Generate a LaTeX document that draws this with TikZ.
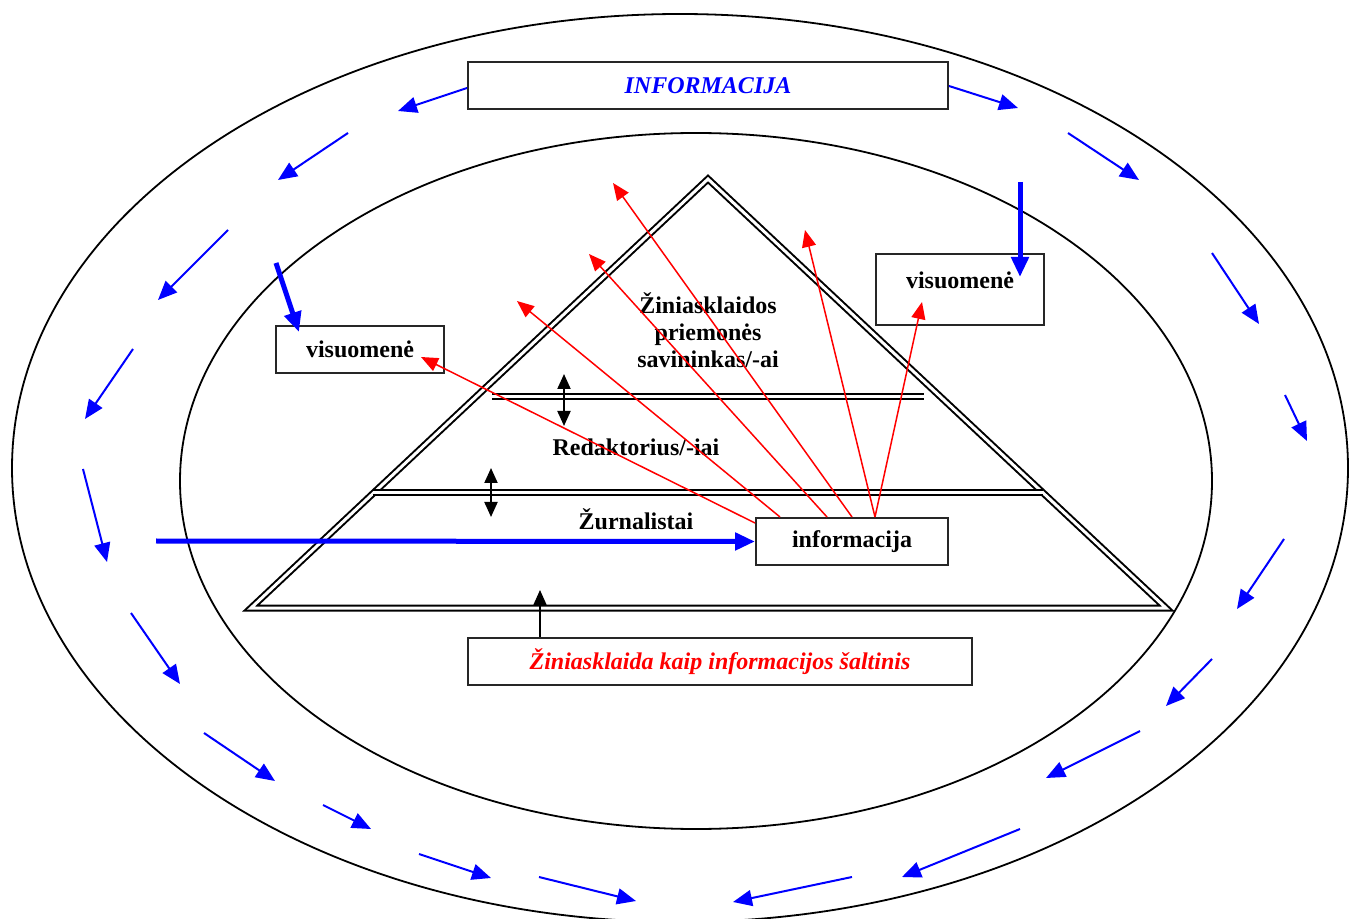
\documentclass[tikz,border=0pt]{standalone}
\usepackage{fontspec}
\setmainfont{Liberation Serif}
\usetikzlibrary{arrows.meta}
\begin{document}
\begin{tikzpicture}[x=0.5pt,y=-0.5pt,
  box/.style={draw=black!85, line width=1pt, rectangle, inner sep=0pt, minimum height=23.5pt},
  lbl/.style={font=\bfseries\fontsize{12}{13.5}\selectfont, align=center, inner sep=0pt},
  ring/.style={black, line width=0.9pt},
  wall/.style={black, line width=1pt, double, double distance=1.5pt},
  flow/.style={blue, line width=1pt, -{Triangle[length=9.5pt,width=8pt]}},
  heavy/.style={blue, line width=2.5pt, -{Triangle[length=10pt,width=8.5pt]}},
  ray/.style={red, line width=0.75pt, -{Triangle[length=8.5pt,width=7pt]}},
  both/.style={black, line width=1pt, {Triangle[length=7.5pt,width=6.5pt]}-{Triangle[length=7.5pt,width=6.5pt]}},
  lift/.style={black, line width=0.8pt, -{Triangle[length=7.5pt,width=6.5pt]}},
]
\useasboundingbox (0,0) rectangle (1350,919);

% the two rings
\draw[ring] (680,468) ellipse [x radius=668, y radius=454];
\draw[ring] (696,481) ellipse [x radius=516, y radius=348];

% the pyramid and its level dividers
\draw[wall] (708,179) -- (1166,608) -- (251,608) -- cycle;
\draw[wall] (492,397) -- (924,397);
\draw[wall] (373,493) -- (1043,493);

% boxes
\node[box, minimum width=240pt] (info) at (708,85.5)
  {\color{blue}\bfseries\itshape\fontsize{12}{14}\selectfont INFORMACIJA};
\node[box, minimum width=84pt] (visL) at (360,349.5)
  {\bfseries\fontsize{12}{14}\selectfont visuomenė};
\node[box, minimum width=84pt, minimum height=35.5pt] (visR) at (960,289.5) {};
\node[lbl] (visRtext) at (960,280) {visuomenė};
\node[box, minimum width=96pt] (infoBox) at (852,541.5)
  {\bfseries\fontsize{12}{14}\selectfont informacija};
\node[box, minimum width=252pt] (src) at (720,661.5)
  {\color{red}\bfseries\itshape\fontsize{12}{14}\selectfont Žiniasklaida kaip informacijos šaltinis};

% level labels
\node[lbl] (owner) at (708,330) {Žiniasklaidos\\priemonės\\savininkas/-ai};
\node[lbl] (editor) at (636,447) {Redaktorius/-iai};
\node[lbl] (journ) at (636,519) {Žurnalistai};

% two-way links between levels
\coordinate (upA) at (564,374); \coordinate (dnA) at (564,426);
\coordinate (upB) at (491,468); \coordinate (dnB) at (491,517);
\draw[both] (upA) -- (dnA);
\draw[both] (upB) -- (dnB);

% media as a source lifts into the pyramid base
\coordinate (baseTip) at (540,590);
\draw[lift] (baseTip |- src.north) -- (baseTip);

% heavy blue inputs
\coordinate (feed) at (156,541);
\draw[heavy] (feed) -- (infoBox.west);
\coordinate (dropR) at (1020,182); \coordinate (dropRend) at (1020,277);
\draw[heavy] (dropR) -- (dropRend);
\coordinate (dropL) at (276,263); \coordinate (dropLend) at (299,332);
\draw[heavy] (dropL) -- (dropLend);

% red rays out of the journalists' information
\coordinate (t1) at (421,357);
\coordinate (t2) at (517,301);
\coordinate (t3) at (589,254);
\coordinate (t4) at (613,183);
\coordinate (t5) at (805,230);
\coordinate (t6) at (922,302);
\draw[ray] ([yshift=-3pt]infoBox.north west) -- (t1);
\draw[ray] ([xshift=12.5pt]infoBox.north west) -- (t2);
\draw[ray] ([xshift=36pt]infoBox.north west) -- (t3);
\draw[ray] ([xshift=48.5pt]infoBox.north west) -- (t4);
\draw[ray] ([xshift=60pt]infoBox.north west) -- (t5);
\draw[ray] ([xshift=60pt]infoBox.north west) -- (t6);

% information circulating between the rings
\coordinate (fa) at (398,111);
\draw[flow] (info.west |- 0,88) -- (fa);
\coordinate (fk) at (1018,108);
\draw[flow] (info.east |- 0,86) -- (fk);
\foreach \ax/\ay/\bx/\by in {
  348/133/278/180, 228/230/158/300, 133/349/85/419, 83/469/107/562,
  131/613/180/684, 204/733/275/781, 323/805/371/829, 419/854/491/878,
  539/877/636/901,
  1068/133/1139/180, 1212/253/1259/324, 1285/395/1307/441,
  1284/539/1237/609, 1212/659/1166/706, 1140/731/1046/778,
  1020/829/902/877, 852/877/733/902}
  \draw[flow] (\ax,\ay) -- (\bx,\by);
\end{tikzpicture}
\end{document}
